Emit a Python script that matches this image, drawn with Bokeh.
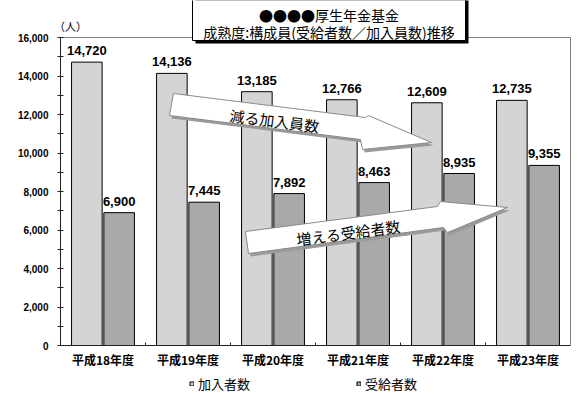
from bokeh.plotting import figure
from bokeh.models import (Range1d, FixedTicker, NumeralTickFormatter, LabelSet, Label,
                          ColumnDataSource, Legend, LegendItem, BoxAnnotation)
from bokeh.core.properties import value
from bokeh.embed import file_html
from bokeh.resources import INLINE

# ---------------- data ----------------
categories = ["平成18年度", "平成19年度", "平成20年度", "平成21年度", "平成22年度", "平成23年度"]
members = [14720, 14136, 13185, 12766, 12609, 12735]        # 加入者数
recipients = [6900, 7445, 7892, 8463, 8935, 9355]           # 受給者数
series_names = ["加入者数", "受給者数"]
y_ticks = [0, 2000, 4000, 6000, 8000, 10000, 12000, 14000, 16000]
y_minor_ticks = [1000, 3000, 5000, 7000, 9000, 11000, 13000, 15000]
title_lines = ["●●●●厚生年金基金", "成熟度:構成員(受給者数／加入員数)推移"]
unit_label = "（人）"
arrow_texts = ["減る加入員数", "増える受給者数"]

# ---------------- style / layout ----------------
JP = "Noto Sans CJK JP"
LIGHT = "#d4d4d4"
DARK = "#a9a9a9"
BAR_W = 0.36
OFFSET = 0.19
W, H = 579, 394
PLOT_L, PLOT_R, PLOT_T, PLOT_B = 60, 570, 37, 345   # plot area in page pixels
Y_MAX = 16000

n = len(categories)
centers = [i + 0.5 for i in range(n)]
x_light = [c - OFFSET for c in centers]
x_dark = [c + OFFSET for c in centers]

# the frame fills the page; axes are fixed at data 0 so the plot area sits inside
xpp = n / (PLOT_R - PLOT_L)
ypp = Y_MAX / (PLOT_B - PLOT_T)
x_range = Range1d(-PLOT_L * xpp, n + (W - PLOT_R) * xpp)
y_range = Range1d(-(H - PLOT_B) * ypp, Y_MAX + PLOT_T * ypp)


def px_x(px):   # page pixel -> data x (for decorations only)
    return (px - PLOT_L) * xpp


def px_y(py):   # page pixel -> data y (for decorations only)
    return (PLOT_B - py) * ypp


p = figure(width=W, height=H, output_backend="svg", toolbar_location=None, title=None,
           x_range=x_range, y_range=y_range,
           min_border=0, min_border_left=0, min_border_right=0, min_border_top=0,
           min_border_bottom=0, background_fill_color="white", border_fill_color="white")
p.outline_line_color = None
p.xgrid.visible = False
p.ygrid.visible = False

# plot-area border (top and right, grey)
p.line([0, n, n], [Y_MAX, Y_MAX, 0], line_color="#808080", line_width=1)

# bars
src_l = ColumnDataSource(dict(x=x_light, top=members, text=[f"{v:,}" for v in members]))
src_d = ColumnDataSource(dict(x=x_dark, top=recipients, text=[f"{v:,}" for v in recipients]))
r1 = p.vbar(x="x", top="top", width=BAR_W, source=src_l, fill_color=LIGHT,
            line_color="black", line_width=1)
r2 = p.vbar(x="x", top="top", width=BAR_W, source=src_d, fill_color=DARK,
            line_color="black", line_width=1)

# arrows (decorative shapes, page pixels converted to data units)
arrow1_px = [(173, 93), (365, 117), (368, 115), (431, 142), (362, 149), (360, 139), (169, 115)]
arrow2_px = [(245, 231), (437, 206), (440, 201), (507, 207), (447, 232), (443, 227), (248, 253)]
shadow_dx, shadow_dy = 2, 3
shadows_x = [[px_x(a + shadow_dx) for a, b in arr] for arr in (arrow1_px, arrow2_px)]
shadows_y = [[px_y(b + shadow_dy) for a, b in arr] for arr in (arrow1_px, arrow2_px)]
p.patches(shadows_x, shadows_y, fill_color="#9a9a9a", line_color=None)
p.patches([[px_x(a) for a, b in arr] for arr in (arrow1_px, arrow2_px)],
          [[px_y(b) for a, b in arr] for arr in (arrow1_px, arrow2_px)],
          fill_color="white", line_color="#8a8a8a", line_width=1)

p.add_layout(Label(x=px_x(274), y=px_y(120), text=arrow_texts[0], angle=-0.124,
                   text_align="center", text_baseline="middle",
                   text_font=JP, text_font_size="15px", text_color="black"))
p.add_layout(Label(x=px_x(348), y=px_y(232), text=arrow_texts[1], angle=0.131,
                   text_align="center", text_baseline="middle",
                   text_font=JP, text_font_size="15px", text_color="black"))

# value labels
for src in (src_l, src_d):
    p.add_layout(LabelSet(x="x", y="top", text="text", source=src, y_offset=7,
                          text_align="center", text_baseline="alphabetic",
                          text_font=value("Liberation Sans"), text_font_style="bold",
                          text_font_size="13px", text_color="black"))

# axes
ya = p.yaxis[0]
ya.fixed_location = 0
ya.bounds = (0, Y_MAX)
ya.ticker = FixedTicker(ticks=y_ticks, minor_ticks=y_minor_ticks)
ya.formatter = NumeralTickFormatter(format="0,0")
ya.axis_line_color = "#222222"
ya.axis_line_width = 1
ya.major_tick_in = 3
ya.major_tick_out = 3
ya.minor_tick_in = 3
ya.minor_tick_out = 3
ya.major_tick_line_color = "#222222"
ya.minor_tick_line_color = "#222222"
ya.major_label_standoff = 9
ya.major_label_text_font = "Liberation Sans"
ya.major_label_text_font_style = "bold"
ya.major_label_text_font_size = "10px"
ya.major_label_text_color = "black"

xa = p.xaxis[0]
xa.fixed_location = 0
xa.bounds = (0, n)
xa.ticker = FixedTicker(ticks=centers, minor_ticks=[i for i in range(1, n)])
xa.major_label_overrides = {c: lab for c, lab in zip(centers, categories)}
xa.major_tick_line_color = None
xa.major_tick_in = 0
xa.major_tick_out = 0
xa.minor_tick_in = 3
xa.minor_tick_out = 0
xa.minor_tick_line_color = "#222222"
xa.axis_line_color = "#222222"
xa.axis_line_width = 1
xa.major_label_standoff = 5
xa.major_label_text_font = JP
xa.major_label_text_font_style = "bold"
xa.major_label_text_font_size = "12px"
xa.major_label_text_color = "black"

# unit label
p.add_layout(Label(x=px_x(70), y=px_y(25), text=unit_label, text_align="center",
                   text_baseline="middle", text_font=JP, text_font_size="11px",
                   text_color="black"))

# title box with shadow
p.add_layout(BoxAnnotation(left=px_x(195), right=px_x(468), top=px_y(-5), bottom=px_y(43),
                           fill_color="black", fill_alpha=1, line_color=None, level="overlay"))
p.add_layout(BoxAnnotation(left=px_x(192), right=px_x(465), top=px_y(-5), bottom=px_y(40),
                           fill_color="white", fill_alpha=1, line_color="black",
                           line_width=1, line_alpha=1, level="overlay"))
p.add_layout(Label(x=px_x(328.5), y=px_y(14), text=title_lines[0], text_align="center",
                   text_baseline="middle", text_font=JP, text_font_size="14px",
                   text_color="black", level="overlay"))
p.add_layout(Label(x=px_x(328.5), y=px_y(31), text=title_lines[1], text_align="center",
                   text_baseline="middle", text_font=JP, text_font_size="14px",
                   text_color="black", level="overlay"))

# legend
legend = Legend(items=[LegendItem(label=series_names[0], renderers=[r1]),
                       LegendItem(label=series_names[1], renderers=[r2])],
                location=(129 + PLOT_L, 1), orientation="horizontal", spacing=106,
                glyph_width=5, glyph_height=5, label_standoff=4, padding=0, margin=0,
                border_line_color=None, background_fill_alpha=0,
                label_text_font=JP, label_text_font_size="13px", label_height=14,
                label_text_color="black")
p.add_layout(legend, "center")

open("out.html", "w").write(file_html(p, INLINE))
